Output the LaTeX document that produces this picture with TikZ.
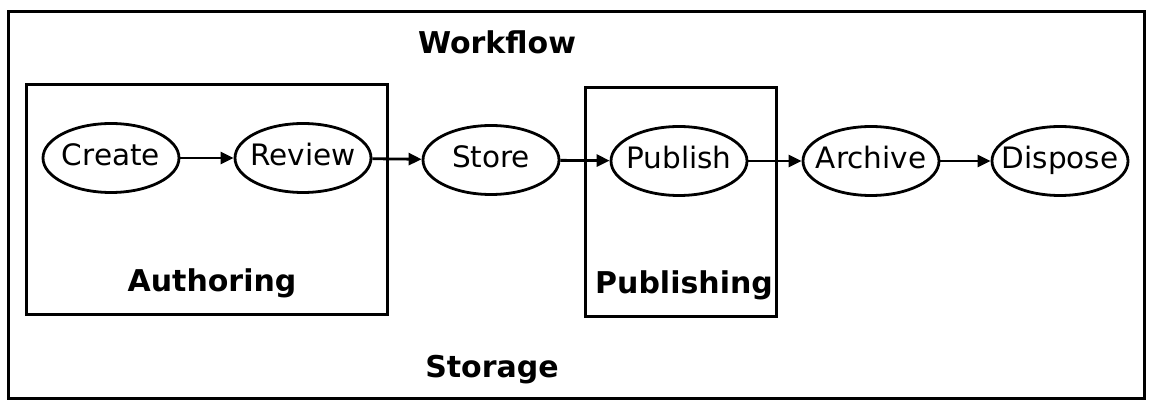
\documentclass[tikz,border=0pt]{standalone}
\usepackage{fontspec}
\setmainfont{DejaVu Sans}
\usetikzlibrary{shapes.geometric,arrows.meta}
\begin{document}
\begin{tikzpicture}[x=1pt,y=-1pt,
  stage/.style={draw,line width=2.8pt,ellipse,minimum width=136pt,minimum height=69pt,inner xsep=-12pt,inner ysep=-4pt,text height=21pt,text depth=5pt,font=\fontsize{29.5}{33}\selectfont},
  frame/.style={draw,line width=2.8pt},
  lbl/.style={font=\fontsize{30}{34}\selectfont\bfseries,inner sep=0pt},
  flow/.style={line width=2.8pt,-{Triangle[length=13pt,width=12pt]}}]
\useasboundingbox (0,0) rectangle (1150,403);
\node[frame,minimum width=1136pt,minimum height=387pt,anchor=north west,inner sep=0pt] (outer) at (7,10) {};
\node[frame,minimum width=361pt,minimum height=230pt,anchor=north west,inner sep=0pt] (authbox) at (25,83) {};
\node[frame,minimum width=191pt,minimum height=229pt,anchor=north west,inner sep=0pt] (pubbox) at (584,86) {};
\node[lbl] (workflow) at (497,42) {Workflow};
\node[lbl] (storage) at (492,370) {Storage};
\node[lbl] (authoring) at (212,283) {Authoring};
\node[lbl] (publishing) at (684,285) {Publishing};
\node[stage] (create) at (111,158) {Create};
\node[stage] (review) at (303,158) {Review};
\node[stage] (store) at (491,160) {Store};
\node[stage] (publish) at (679,161) {Publish};
\node[stage] (archive) at (871,161) {Archive};
\node[stage] (dispose) at (1060,161) {Dispose};
\draw[flow] (create) -- (review);
\draw[flow] (review) -- (store);
\draw[flow] (store) -- (publish);
\draw[flow] (publish) -- (archive);
\draw[flow] (archive) -- (dispose);
\end{tikzpicture}
\end{document}
